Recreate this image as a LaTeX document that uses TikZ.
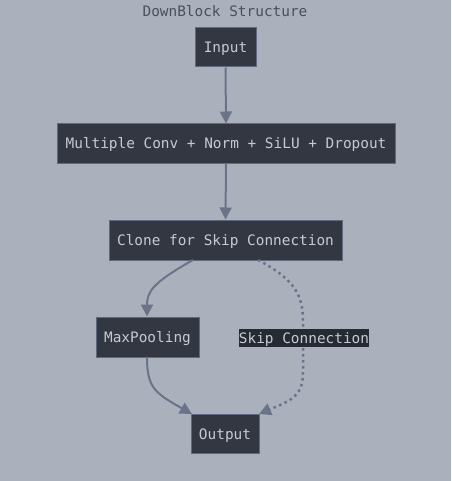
\documentclass[tikz,border=0pt]{standalone}
\usepackage{fontspec}
\setmonofont{DejaVu Sans Mono}
\usetikzlibrary{arrows.meta}
\definecolor{bg}{HTML}{AAB1BD}
\definecolor{boxfill}{HTML}{333742}
\definecolor{boxline}{HTML}{5F6A7E}
\definecolor{txt}{HTML}{C6CAD2}
\definecolor{edge}{HTML}{6A7389}
\definecolor{titletxt}{HTML}{4A505B}
\definecolor{lblbg}{HTML}{262A33}
\tikzset{
  stepbox/.style={draw=boxline, fill=boxfill, line width=1pt, text=txt,
    font=\ttfamily\fontsize{14.4}{16}\selectfont, inner sep=0pt, anchor=center,
    text height=12pt, text depth=1pt},
  conn/.style={draw=edge, line width=2pt, -{Triangle[length=12pt,width=12pt]}},
  skip/.style={draw=edge, line width=2.5pt, dash pattern=on 2.5pt off 3.5pt,
    -{Triangle[length=12pt,width=12pt]}},
}
\begin{document}
\begin{tikzpicture}[x=1pt,y=-1pt]
\fill[bg] (0,0) rectangle (451,481);
\useasboundingbox (0,0) rectangle (451,481);
\node[text=titletxt, font=\ttfamily\fontsize{14.4}{16}\selectfont] (title) at (225,11) {DownBlock Structure};
\node[stepbox, minimum width=61pt, minimum height=39pt] (input) at (225.5,47.5) {Input};
\node[stepbox, minimum width=338pt, minimum height=39pt] (conv) at (226,143.5) {Multiple Conv + Norm + SiLU + Dropout};
\node[stepbox, minimum width=233pt, minimum height=40pt] (clone) at (225.5,240) {Clone for Skip Connection};
\node[stepbox, minimum width=103pt, minimum height=40pt] (pool) at (147.5,337) {MaxPooling};
\node[stepbox, minimum width=68pt, minimum height=39pt] (out) at (225,433.5) {Output};
\coordinate (c1) at (193,260);
\coordinate (c2) at (258,260);
\coordinate (p1) at (147,357);
\coordinate (o1) at (192,414);
\coordinate (o2) at (259,414);
\draw[conn] (input.south) -- (conv.north);
\draw[conn] (conv.south) -- (clone.north);
\draw[conn] (c1) .. controls (152,283) and (147,292) .. (pool.north -| p1);
\draw[conn] (p1) .. controls (147,388) and (155,393) .. (o1);
\draw[skip] (c2) .. controls (296,280) and (303,296) .. (303,322) -- (303,372) .. controls (303,396) and (292,400) .. (o2);
\node[fill=lblbg, text=txt, font=\ttfamily\fontsize{14.4}{16}\selectfont, inner sep=0pt, text height=12pt, text depth=1pt, minimum height=18pt, minimum width=130pt] (lbl) at (304,337.5) {Skip Connection};
\end{tikzpicture}
\end{document}
